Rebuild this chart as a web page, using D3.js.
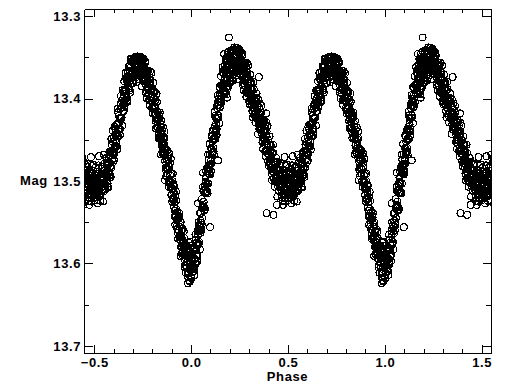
<!DOCTYPE html>
<html>
<head>
<meta charset="utf-8">
<script src="https://cdn.jsdelivr.net/npm/d3@7"></script>
<style>
body { margin: 0; background: #fff; }
text { font-family: "Liberation Sans", Arial, sans-serif; font-weight: bold; font-size: 13px; fill: #000; }
</style>
</head>
<body>
<svg id="chart" width="512" height="384"></svg>
<script>
// light curve, one cycle of phase [0,1) : [phase, mag]
var obs = [
[0.001,13.604],[0.003,13.590],[0.004,13.611],[0.006,13.596],[0.008,13.605],[0.009,13.584],
[0.010,13.592],[0.012,13.607],[0.015,13.594],[0.016,13.609],[0.017,13.582],[0.019,13.595],
[0.021,13.598],[0.023,13.584],[0.024,13.571],[0.026,13.590],[0.028,13.583],[0.029,13.592],
[0.030,13.578],[0.032,13.590],[0.035,13.565],[0.036,13.577],[0.037,13.558],[0.039,13.576],
[0.041,13.574],[0.043,13.554],[0.044,13.561],[0.046,13.539],[0.048,13.556],[0.049,13.548],
[0.050,13.539],[0.052,13.551],[0.055,13.553],[0.056,13.533],[0.057,13.545],[0.059,13.531],
[0.061,13.529],[0.063,13.512],[0.064,13.531],[0.066,13.531],[0.068,13.511],[0.069,13.532],
[0.070,13.506],[0.072,13.514],[0.075,13.496],[0.076,13.514],[0.077,13.502],[0.079,13.513],
[0.081,13.504],[0.083,13.513],[0.084,13.486],[0.086,13.488],[0.088,13.503],[0.089,13.481],
[0.090,13.474],[0.092,13.483],[0.095,13.489],[0.096,13.481],[0.097,13.468],[0.099,13.480],
[0.101,13.476],[0.103,13.460],[0.104,13.479],[0.106,13.461],[0.108,13.468],[0.109,13.446],
[0.110,13.452],[0.112,13.465],[0.115,13.450],[0.116,13.464],[0.117,13.437],[0.119,13.448],
[0.121,13.449],[0.123,13.434],[0.124,13.421],[0.126,13.439],[0.128,13.431],[0.129,13.440],
[0.130,13.425],[0.132,13.437],[0.135,13.412],[0.136,13.423],[0.137,13.405],[0.139,13.423],
[0.141,13.421],[0.143,13.401],[0.144,13.408],[0.146,13.386],[0.148,13.404],[0.149,13.396],
[0.150,13.387],[0.152,13.400],[0.155,13.405],[0.156,13.384],[0.157,13.397],[0.159,13.384],
[0.161,13.384],[0.163,13.368],[0.164,13.387],[0.166,13.388],[0.168,13.369],[0.169,13.390],
[0.170,13.365],[0.172,13.375],[0.175,13.359],[0.176,13.377],[0.177,13.366],[0.179,13.379],
[0.181,13.371],[0.183,13.382],[0.184,13.355],[0.186,13.360],[0.188,13.376],[0.189,13.355],
[0.190,13.349],[0.192,13.361],[0.195,13.370],[0.196,13.363],[0.197,13.352],[0.199,13.366],
[0.201,13.364],[0.203,13.350],[0.204,13.371],[0.206,13.356],[0.208,13.365],[0.209,13.344],
[0.210,13.352],[0.212,13.367],[0.215,13.355],[0.216,13.371],[0.217,13.345],[0.219,13.358],
[0.221,13.363],[0.223,13.350],[0.224,13.338],[0.226,13.359],[0.228,13.354],[0.229,13.363],
[0.230,13.350],[0.232,13.365],[0.235,13.343],[0.236,13.356],[0.237,13.339],[0.239,13.359],
[0.241,13.360],[0.243,13.344],[0.244,13.354],[0.246,13.340],[0.248,13.357],[0.249,13.351],
[0.250,13.344],[0.252,13.361],[0.255,13.371],[0.256,13.352],[0.257,13.367],[0.259,13.357],
[0.261,13.360],[0.263,13.348],[0.264,13.369],[0.266,13.374],[0.268,13.359],[0.269,13.381],
[0.270,13.358],[0.272,13.370],[0.275,13.359],[0.276,13.378],[0.277,13.369],[0.279,13.384],
[0.281,13.379],[0.283,13.392],[0.284,13.367],[0.286,13.374],[0.288,13.392],[0.289,13.373],
[0.290,13.368],[0.292,13.381],[0.295,13.394],[0.296,13.387],[0.297,13.377],[0.299,13.393],
[0.301,13.393],[0.303,13.381],[0.304,13.403],[0.306,13.389],[0.308,13.401],[0.309,13.380],
[0.310,13.389],[0.312,13.407],[0.315,13.398],[0.316,13.415],[0.317,13.390],[0.319,13.405],
[0.321,13.411],[0.323,13.401],[0.324,13.389],[0.326,13.412],[0.328,13.408],[0.329,13.418],
[0.330,13.406],[0.332,13.422],[0.335,13.403],[0.336,13.417],[0.337,13.400],[0.339,13.422],
[0.341,13.425],[0.343,13.409],[0.344,13.419],[0.346,13.401],[0.348,13.424],[0.349,13.417],
[0.350,13.411],[0.352,13.428],[0.355,13.438],[0.356,13.420],[0.357,13.434],[0.359,13.425],
[0.361,13.429],[0.363,13.417],[0.364,13.438],[0.366,13.443],[0.368,13.428],[0.369,13.451],
[0.370,13.428],[0.372,13.441],[0.375,13.429],[0.376,13.449],[0.377,13.440],[0.379,13.455],
[0.381,13.450],[0.383,13.464],[0.384,13.439],[0.386,13.445],[0.388,13.464],[0.389,13.445],
[0.390,13.440],[0.392,13.454],[0.395,13.467],[0.396,13.460],[0.397,13.450],[0.399,13.467],
[0.401,13.467],[0.403,13.456],[0.404,13.478],[0.406,13.464],[0.408,13.476],[0.409,13.456],
[0.410,13.465],[0.412,13.483],[0.415,13.474],[0.416,13.491],[0.417,13.466],[0.419,13.481],
[0.421,13.488],[0.423,13.477],[0.424,13.466],[0.426,13.489],[0.428,13.486],[0.429,13.496],
[0.430,13.484],[0.432,13.500],[0.435,13.481],[0.436,13.495],[0.437,13.478],[0.439,13.500],
[0.441,13.502],[0.443,13.486],[0.444,13.496],[0.446,13.477],[0.448,13.499],[0.449,13.493],
[0.450,13.486],[0.452,13.503],[0.455,13.512],[0.456,13.493],[0.457,13.507],[0.459,13.498],
[0.461,13.500],[0.463,13.487],[0.464,13.507],[0.466,13.511],[0.468,13.495],[0.469,13.517],
[0.470,13.493],[0.472,13.504],[0.475,13.491],[0.476,13.510],[0.477,13.500],[0.479,13.515],
[0.481,13.508],[0.483,13.520],[0.484,13.494],[0.486,13.500],[0.488,13.517],[0.489,13.497],
[0.490,13.491],[0.492,13.503],[0.495,13.514],[0.496,13.507],[0.497,13.496],[0.499,13.511],
[0.501,13.509],[0.503,13.496],[0.504,13.517],[0.506,13.502],[0.508,13.512],[0.509,13.491],
[0.510,13.499],[0.512,13.515],[0.515,13.504],[0.516,13.520],[0.517,13.494],[0.519,13.508],
[0.521,13.513],[0.523,13.501],[0.524,13.489],[0.526,13.510],[0.528,13.505],[0.529,13.515],
[0.530,13.502],[0.532,13.517],[0.535,13.495],[0.536,13.508],[0.537,13.491],[0.539,13.511],
[0.541,13.512],[0.543,13.494],[0.544,13.502],[0.546,13.483],[0.548,13.503],[0.549,13.495],
[0.550,13.488],[0.552,13.503],[0.555,13.510],[0.556,13.491],[0.557,13.504],[0.559,13.493],
[0.561,13.494],[0.563,13.479],[0.564,13.498],[0.566,13.500],[0.568,13.482],[0.569,13.503],
[0.570,13.478],[0.572,13.488],[0.575,13.472],[0.576,13.490],[0.577,13.479],[0.579,13.492],
[0.581,13.483],[0.583,13.493],[0.584,13.466],[0.586,13.469],[0.588,13.484],[0.589,13.463],
[0.590,13.456],[0.592,13.466],[0.595,13.473],[0.596,13.465],[0.597,13.453],[0.599,13.466],
[0.601,13.462],[0.603,13.447],[0.604,13.467],[0.606,13.451],[0.608,13.459],[0.609,13.437],
[0.610,13.444],[0.612,13.458],[0.615,13.443],[0.616,13.458],[0.617,13.431],[0.619,13.442],
[0.621,13.445],[0.623,13.430],[0.624,13.417],[0.626,13.437],[0.628,13.429],[0.629,13.438],
[0.630,13.424],[0.632,13.437],[0.635,13.412],[0.636,13.424],[0.637,13.406],[0.639,13.424],
[0.641,13.423],[0.643,13.403],[0.644,13.411],[0.646,13.390],[0.648,13.408],[0.649,13.400],
[0.650,13.392],[0.652,13.406],[0.655,13.411],[0.656,13.390],[0.657,13.403],[0.659,13.391],
[0.661,13.391],[0.663,13.375],[0.664,13.394],[0.666,13.397],[0.668,13.378],[0.669,13.399],
[0.670,13.374],[0.672,13.384],[0.675,13.368],[0.676,13.386],[0.677,13.375],[0.679,13.388],
[0.681,13.379],[0.683,13.390],[0.684,13.363],[0.686,13.367],[0.688,13.382],[0.689,13.362],
[0.690,13.355],[0.692,13.366],[0.695,13.375],[0.696,13.368],[0.697,13.356],[0.699,13.370],
[0.701,13.368],[0.703,13.354],[0.704,13.374],[0.706,13.359],[0.708,13.368],[0.709,13.350],
[0.710,13.354],[0.712,13.370],[0.715,13.358],[0.716,13.374],[0.717,13.351],[0.719,13.361],
[0.721,13.366],[0.723,13.354],[0.724,13.349],[0.726,13.363],[0.728,13.358],[0.729,13.368],
[0.730,13.355],[0.732,13.370],[0.735,13.350],[0.736,13.363],[0.737,13.350],[0.739,13.367],
[0.741,13.368],[0.743,13.352],[0.744,13.362],[0.746,13.351],[0.748,13.365],[0.749,13.359],
[0.750,13.352],[0.752,13.369],[0.755,13.379],[0.756,13.361],[0.757,13.375],[0.759,13.366],
[0.761,13.370],[0.763,13.357],[0.764,13.378],[0.766,13.383],[0.768,13.368],[0.769,13.390],
[0.770,13.367],[0.772,13.380],[0.775,13.368],[0.776,13.388],[0.777,13.379],[0.779,13.394],
[0.781,13.389],[0.783,13.402],[0.784,13.377],[0.786,13.383],[0.788,13.402],[0.789,13.382],
[0.790,13.377],[0.792,13.391],[0.795,13.403],[0.796,13.397],[0.797,13.387],[0.799,13.403],
[0.801,13.403],[0.803,13.391],[0.804,13.413],[0.806,13.400],[0.808,13.411],[0.809,13.391],
[0.810,13.400],[0.812,13.418],[0.815,13.410],[0.816,13.427],[0.817,13.402],[0.819,13.418],
[0.821,13.425],[0.823,13.415],[0.824,13.404],[0.826,13.428],[0.828,13.425],[0.829,13.436],
[0.830,13.424],[0.832,13.441],[0.835,13.424],[0.836,13.438],[0.837,13.422],[0.839,13.446],
[0.841,13.449],[0.843,13.434],[0.844,13.444],[0.846,13.427],[0.848,13.450],[0.849,13.444],
[0.850,13.438],[0.852,13.456],[0.855,13.467],[0.856,13.449],[0.857,13.464],[0.859,13.456],
[0.861,13.460],[0.863,13.448],[0.864,13.469],[0.866,13.476],[0.868,13.461],[0.869,13.484],
[0.870,13.461],[0.872,13.474],[0.875,13.464],[0.876,13.484],[0.877,13.475],[0.879,13.491],
[0.881,13.486],[0.883,13.500],[0.884,13.475],[0.886,13.483],[0.888,13.502],[0.889,13.483],
[0.890,13.478],[0.892,13.493],[0.895,13.507],[0.896,13.501],[0.897,13.491],[0.899,13.509],
[0.901,13.510],[0.903,13.500],[0.904,13.522],[0.906,13.510],[0.908,13.523],[0.909,13.504],
[0.910,13.513],[0.912,13.532],[0.915,13.526],[0.916,13.543],[0.917,13.519],[0.919,13.536],
[0.921,13.543],[0.923,13.534],[0.924,13.524],[0.926,13.548],[0.928,13.546],[0.929,13.558],
[0.930,13.546],[0.932,13.563],[0.935,13.546],[0.936,13.560],[0.937,13.544],[0.939,13.568],
[0.941,13.571],[0.943,13.556],[0.944,13.566],[0.946,13.550],[0.948,13.573],[0.949,13.567],
[0.950,13.561],[0.952,13.579],[0.955,13.590],[0.956,13.571],[0.957,13.586],[0.959,13.578],
[0.961,13.582],[0.963,13.569],[0.964,13.590],[0.966,13.595],[0.968,13.580],[0.969,13.602],
[0.970,13.579],[0.972,13.591],[0.975,13.580],[0.976,13.599],[0.977,13.590],[0.979,13.605],
[0.981,13.599],[0.983,13.612],[0.984,13.587],[0.986,13.592],[0.988,13.610],[0.989,13.591],
[0.990,13.585],[0.992,13.597],[0.995,13.608],[0.996,13.601],[0.997,13.590],[0.999,13.606]
];

// second, noisier run over the same cycle
var obs2 = [
[0.002,13.618],[0.005,13.578],[0.008,13.603],[0.012,13.581],[0.015,13.604],[0.018,13.614],
[0.022,13.565],[0.025,13.600],[0.028,13.575],[0.032,13.597],[0.035,13.561],[0.038,13.550],
[0.042,13.554],[0.045,13.583],[0.048,13.563],[0.052,13.560],[0.055,13.522],[0.058,13.531],
[0.062,13.507],[0.065,13.525],[0.068,13.536],[0.072,13.534],[0.075,13.501],[0.078,13.488],
[0.082,13.484],[0.085,13.515],[0.088,13.468],[0.092,13.491],[0.095,13.455],[0.098,13.492],
[0.102,13.488],[0.105,13.445],[0.108,13.466],[0.112,13.439],[0.115,13.460],[0.118,13.468],
[0.122,13.416],[0.125,13.449],[0.128,13.423],[0.132,13.444],[0.135,13.408],[0.138,13.396],
[0.142,13.400],[0.145,13.430],[0.148,13.411],[0.152,13.409],[0.155,13.373],[0.158,13.384],
[0.162,13.362],[0.165,13.382],[0.168,13.394],[0.172,13.395],[0.175,13.364],[0.178,13.352],
[0.182,13.352],[0.185,13.385],[0.188,13.345],[0.192,13.369],[0.195,13.343],[0.198,13.376],
[0.202,13.378],[0.205,13.342],[0.208,13.363],[0.212,13.341],[0.215,13.366],[0.218,13.378],
[0.222,13.342],[0.225,13.368],[0.228,13.346],[0.232,13.372],[0.235,13.339],[0.238,13.341],
[0.242,13.342],[0.245,13.377],[0.248,13.364],[0.252,13.370],[0.255,13.343],[0.258,13.355],
[0.262,13.345],[0.265,13.366],[0.268,13.384],[0.272,13.390],[0.275,13.364],[0.278,13.357],
[0.282,13.362],[0.285,13.398],[0.288,13.357],[0.292,13.389],[0.295,13.360],[0.298,13.403],
[0.302,13.407],[0.305,13.371],[0.308,13.399],[0.312,13.381],[0.315,13.408],[0.318,13.423],
[0.322,13.380],[0.325,13.420],[0.328,13.400],[0.332,13.429],[0.335,13.399],[0.338,13.394],
[0.342,13.406],[0.345,13.443],[0.348,13.431],[0.352,13.437],[0.355,13.406],[0.358,13.423],
[0.362,13.409],[0.365,13.435],[0.368,13.453],[0.372,13.461],[0.375,13.434],[0.378,13.427],
[0.382,13.433],[0.385,13.470],[0.388,13.429],[0.392,13.462],[0.395,13.433],[0.398,13.476],
[0.402,13.482],[0.405,13.446],[0.408,13.474],[0.412,13.457],[0.415,13.484],[0.418,13.499],
[0.422,13.456],[0.425,13.497],[0.428,13.478],[0.432,13.507],[0.435,13.477],[0.438,13.472],
[0.442,13.484],[0.445,13.519],[0.448,13.506],[0.452,13.512],[0.455,13.480],[0.458,13.495],
[0.462,13.479],[0.465,13.503],[0.468,13.520],[0.472,13.524],[0.475,13.496],[0.478,13.488],
[0.482,13.490],[0.485,13.525],[0.488,13.482],[0.492,13.511],[0.495,13.480],[0.498,13.521],
[0.502,13.523],[0.505,13.484],[0.508,13.510],[0.512,13.489],[0.515,13.514],[0.518,13.527],
[0.522,13.481],[0.525,13.519],[0.528,13.497],[0.532,13.524],[0.535,13.491],[0.538,13.483],
[0.542,13.492],[0.545,13.525],[0.548,13.510],[0.552,13.512],[0.555,13.478],[0.558,13.492],
[0.562,13.472],[0.565,13.493],[0.568,13.507],[0.572,13.508],[0.575,13.477],[0.578,13.465],
[0.582,13.464],[0.585,13.495],[0.588,13.449],[0.592,13.474],[0.595,13.439],[0.598,13.477],
[0.602,13.475],[0.605,13.434],[0.608,13.457],[0.612,13.432],[0.615,13.453],[0.618,13.462],
[0.622,13.412],[0.625,13.446],[0.628,13.421],[0.632,13.444],[0.635,13.408],[0.638,13.397],
[0.642,13.403],[0.645,13.433],[0.648,13.415],[0.652,13.415],[0.655,13.379],[0.658,13.390],
[0.662,13.369],[0.665,13.390],[0.668,13.403],[0.672,13.404],[0.675,13.373],[0.678,13.361],
[0.682,13.361],[0.685,13.393],[0.688,13.352],[0.692,13.374],[0.695,13.352],[0.698,13.381],
[0.702,13.381],[0.705,13.351],[0.708,13.366],[0.712,13.351],[0.715,13.368],[0.718,13.380],
[0.722,13.350],[0.725,13.372],[0.728,13.350],[0.732,13.377],[0.735,13.352],[0.738,13.353],
[0.742,13.350],[0.745,13.385],[0.748,13.372],[0.752,13.378],[0.755,13.352],[0.758,13.364],
[0.762,13.355],[0.765,13.375],[0.768,13.393],[0.772,13.400],[0.775,13.373],[0.778,13.366],
[0.782,13.371],[0.785,13.408],[0.788,13.367],[0.792,13.399],[0.795,13.369],[0.798,13.412],
[0.802,13.418],[0.805,13.381],[0.808,13.409],[0.812,13.392],[0.815,13.420],[0.818,13.436],
[0.822,13.394],[0.825,13.435],[0.828,13.417],[0.832,13.448],[0.835,13.420],[0.838,13.417],
[0.842,13.431],[0.845,13.468],[0.848,13.457],[0.852,13.465],[0.855,13.435],[0.858,13.453],
[0.862,13.440],[0.865,13.467],[0.868,13.486],[0.872,13.494],[0.875,13.469],[0.878,13.463],
[0.882,13.469],[0.885,13.507],[0.888,13.467],[0.892,13.501],[0.895,13.473],[0.898,13.517],
[0.902,13.525],[0.905,13.491],[0.908,13.521],[0.912,13.506],[0.915,13.536],[0.918,13.553],
[0.922,13.513],[0.925,13.555],[0.928,13.538],[0.932,13.570],[0.935,13.542],[0.938,13.539],
[0.942,13.553],[0.945,13.591],[0.948,13.580],[0.952,13.588],[0.955,13.558],[0.958,13.575],
[0.962,13.561],[0.965,13.587],[0.968,13.605],[0.972,13.611],[0.975,13.585],[0.978,13.578],
[0.982,13.582],[0.985,13.617],[0.988,13.575],[0.992,13.605],[0.995,13.574],[0.998,13.616]
];

// stray points
var strays = [
[0.195,13.326],[0.171,13.346],[0.185,13.399],[0.350,13.374],[0.390,13.539],[0.443,13.529],
[0.425,13.541],[0.474,13.529],[0.865,13.499],[0.483,13.471],[0.524,13.470],[0.550,13.468],
[0.984,13.624],[0.989,13.620],[0.993,13.622],[0.002,13.618],[0.062,13.490],[0.036,13.527],
[0.098,13.556],[0.139,13.475],[0.388,13.418],[0.176,13.392],[0.182,13.395],[0.187,13.388],
[0.193,13.385],[0.198,13.382],[0.203,13.378],[0.207,13.380],[0.213,13.372]
];

var xDomain = [-0.553, 1.548];
var yDomain = [13.2915, 13.7085];
var xMajor = [-0.5, 0.0, 0.5, 1.0, 1.5];
var xMinor = [-0.4, -0.3, -0.2, -0.1, 0.1, 0.2, 0.3, 0.4, 0.6, 0.7, 0.8, 0.9, 1.1, 1.2, 1.3, 1.4];
var yMajor = [13.3, 13.4, 13.5, 13.6, 13.7];
var yMinor = [13.35, 13.45, 13.55, 13.65];

var svg = d3.select("#chart");
var mLeft = 84, mTop = 9, w = 407, h = 344;

var x = d3.scaleLinear().domain(xDomain).range([0, w]);
var y = d3.scaleLinear().domain(yDomain).range([0, h]);

var g = svg.append("g").attr("transform", "translate(" + mLeft + "," + mTop + ")");

g.append("clipPath").attr("id", "plotclip")
  .append("rect").attr("width", w).attr("height", h);

// the cycle is drawn again one phase unit to each side
var shown = [];
obs.concat(obs2, strays).forEach(function(d) {
  [-1, 0, 1].forEach(function(s) {
    var p = d[0] + s;
    if (p >= xDomain[0] - 0.02 && p <= xDomain[1] + 0.02) shown.push([p, d[1]]);
  });
});

g.append("g").attr("clip-path", "url(#plotclip)")
  .selectAll("circle").data(shown).enter().append("circle")
  .attr("cx", function(d) { return x(d[0]); })
  .attr("cy", function(d) { return y(d[1]); })
  .attr("r", 3.4)
  .style("fill", "none")
  .style("stroke", "#000")
  .style("stroke-width", 1.1)
  .style("shape-rendering", "crispEdges");

// axes, ticks pointing inward on all four sides
function styleAxis(sel) {
  sel.selectAll("path, line").style("stroke", "#000").style("shape-rendering", "crispEdges");
  sel.selectAll("text").style("font-size", "13px").style("font-weight", "bold")
    .style("font-family", '"Liberation Sans", Arial, sans-serif').style("letter-spacing", "0.6px");
}

var fmt = d3.format(".1f");

g.append("g").attr("transform", "translate(0," + h + ")")
  .call(d3.axisBottom(x).tickValues(xMajor).tickSizeInner(-8).tickSizeOuter(0).tickPadding(5).tickFormat(fmt))
  .call(styleAxis);
g.append("g").attr("transform", "translate(0," + h + ")")
  .call(d3.axisBottom(x).tickValues(xMinor).tickSizeInner(-4).tickSizeOuter(0).tickFormat(""))
  .call(styleAxis);
g.append("g")
  .call(d3.axisTop(x).tickValues(xMajor).tickSizeInner(-8).tickSizeOuter(0).tickFormat(""))
  .call(styleAxis);
g.append("g")
  .call(d3.axisTop(x).tickValues(xMinor).tickSizeInner(-4).tickSizeOuter(0).tickFormat(""))
  .call(styleAxis);

g.append("g")
  .call(d3.axisLeft(y).tickValues(yMajor).tickSizeInner(-9).tickSizeOuter(0).tickPadding(3).tickFormat(fmt))
  .call(styleAxis);
g.append("g")
  .call(d3.axisLeft(y).tickValues(yMinor).tickSizeInner(-5).tickSizeOuter(0).tickFormat(""))
  .call(styleAxis);
g.append("g").attr("transform", "translate(" + w + ",0)")
  .call(d3.axisRight(y).tickValues(yMajor).tickSizeInner(-8).tickSizeOuter(0).tickFormat(""))
  .call(styleAxis);
g.append("g").attr("transform", "translate(" + w + ",0)")
  .call(d3.axisRight(y).tickValues(yMinor).tickSizeInner(-5).tickSizeOuter(0).tickFormat(""))
  .call(styleAxis);

// axis titles
svg.append("text").attr("x", mLeft + w / 2).attr("y", 381)
  .attr("text-anchor", "middle").style("letter-spacing", "0.6px").text("Phase");
svg.append("text").attr("x", 20).attr("y", mTop + y(13.5)).attr("dy", "0.32em")
  .style("letter-spacing", "0.6px").text("Mag");
</script>
</body>
</html>
